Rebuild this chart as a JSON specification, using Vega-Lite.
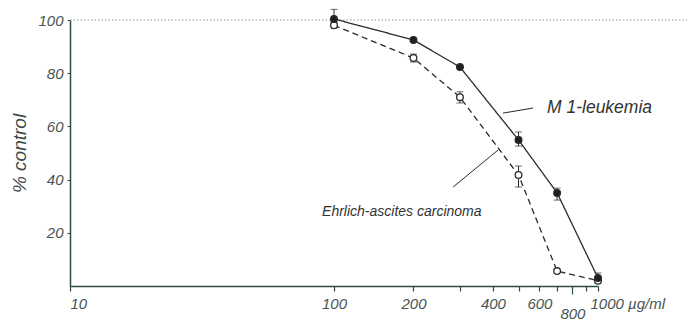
{
  "$schema": "https://vega.github.io/schema/vega-lite/v6.json",
  "width": 528,
  "height": 266,
  "autosize": {"type": "none"},
  "padding": {"left": 70, "top": 20, "right": 89, "bottom": 34},
  "background": "white",
  "config": {"view": {"stroke": null}, "font": "Liberation Sans"},
  "datasets": {
    "points": [
      {"series": "Ehrlich-ascites carcinoma", "dose": 100, "value": 98, "lo": 97, "hi": 99.5},
      {"series": "Ehrlich-ascites carcinoma", "dose": 200, "value": 85.7, "lo": 84.2, "hi": 87.2},
      {"series": "Ehrlich-ascites carcinoma", "dose": 300, "value": 71, "lo": 68.8, "hi": 73},
      {"series": "Ehrlich-ascites carcinoma", "dose": 500, "value": 41.7, "lo": 37.2, "hi": 45.1},
      {"series": "Ehrlich-ascites carcinoma", "dose": 700, "value": 5.6, "lo": null, "hi": null},
      {"series": "Ehrlich-ascites carcinoma", "dose": 1000, "value": 2, "lo": null, "hi": null},
      {"series": "M 1-leukemia", "dose": 100, "value": 100.4, "lo": 99, "hi": 104},
      {"series": "M 1-leukemia", "dose": 200, "value": 92.5, "lo": null, "hi": null},
      {"series": "M 1-leukemia", "dose": 300, "value": 82.3, "lo": null, "hi": null},
      {"series": "M 1-leukemia", "dose": 500, "value": 54.9, "lo": 52.6, "hi": 57.9},
      {"series": "M 1-leukemia", "dose": 700, "value": 35, "lo": 32.3, "hi": 36.8},
      {"series": "M 1-leukemia", "dose": 1000, "value": 3, "lo": 1.1, "hi": 4.9}
    ],
    "ref": [{"x": 10, "x2": 2200, "y": 100}],
    "leaders": [
      {"x": 436.5, "y": 65.0, "x2": 567.6, "y2": 66.9},
      {"x": 282.6, "y": 37.2, "x2": 418, "y2": 51.1}
    ],
    "labelM": [{"x": 641, "y": 66.9, "label": "M 1-leukemia"}],
    "labelE": [{"x": 90.1, "y": 27.8, "label": "Ehrlich-ascites carcinoma"}]
  },
  "layer": [
    {
      "data": {"name": "ref"},
      "mark": {"type": "rule", "color": "#7f9aa8", "strokeDash": [1.5, 2], "strokeWidth": 1.2},
      "encoding": {
        "x": {
          "field": "x", "type": "quantitative",
          "scale": {"type": "log", "domain": [10, 1000]},
          "axis": {
            "values": [10, 100, 200, 300, 400, 500, 600, 700, 800, 900, 1000],
            "format": "d",
            "labelExpr": "datum.value == 1000 ? '1000 µg/ml' : (indexof([10, 100, 200, 400, 600, 800], datum.value) >= 0 ? datum.label : '')",
            "labelOverlap": false,
            "labelBound": false,
            "labelFlush": false,
            "grid": false,
            "title": null,
            "tickSize": {"condition": {"test": "datum.value == 800", "value": 8}, "value": 5},
            "labelPadding": {"condition": {"test": "datum.value == 800", "value": 12}, "value": 5},
            "labelAlign": {"condition": {"test": "datum.value == 1000 || datum.value == 10", "value": "left"}, "value": "center"},
            "labelOffset": {"condition": {"test": "datum.value == 1000", "value": -8}, "value": 0},
            "labelFont": "Liberation Sans",
            "labelFontStyle": "italic",
            "labelFontSize": 15,
            "labelColor": "#4a5552",
            "domainColor": "#2e4a44",
            "domainWidth": 1.5,
            "tickColor": "#2e4a44",
            "tickWidth": 1.2
          }
        },
        "x2": {"field": "x2"},
        "y": {
          "field": "y", "type": "quantitative",
          "scale": {"domain": [0, 100]},
          "title": "% control",
          "axis": {
            "values": [20, 40, 60, 80, 100],
            "grid": false,
            "title": "% control",
            "titleFont": "Liberation Sans",
            "titleFontStyle": "italic",
            "titleFontWeight": "normal",
            "titleFontSize": 19,
            "titleColor": "#3c4a48",
            "titlePadding": 8,
            "labelFont": "Liberation Sans",
            "labelFontStyle": "italic",
            "labelFontSize": 15,
            "labelColor": "#4a5552",
            "labelPadding": 4,
            "tickSize": 3,
            "domainColor": "#2e4a44",
            "domainWidth": 1.5,
            "tickColor": "#2e4a44"
          }
        }
      }
    },
    {
      "data": {"name": "points"},
      "mark": {"type": "line", "color": "#2b2b2b", "strokeWidth": 1.3},
      "encoding": {
        "x": {"field": "dose", "type": "quantitative", "scale": {"type": "log", "domain": [10, 1000]}, "title": null},
        "y": {"field": "value", "type": "quantitative", "scale": {"domain": [0, 100]}, "title": "% control"},
        "detail": {"field": "series"},
        "strokeDash": {
          "field": "series", "type": "nominal",
          "scale": {"domain": ["M 1-leukemia", "Ehrlich-ascites carcinoma"], "range": [[1, 0], [6, 4]]},
          "legend": null
        }
      }
    },
    {
      "data": {"name": "points"},
      "transform": [{"filter": "isValid(datum.lo)"}],
      "mark": {"type": "errorbar", "color": "#2b2b2b", "ticks": {"size": 7}},
      "encoding": {
        "x": {"field": "dose", "type": "quantitative", "scale": {"type": "log", "domain": [10, 1000]}, "title": null},
        "y": {"field": "lo", "type": "quantitative", "scale": {"domain": [0, 100]}, "title": "% control"},
        "y2": {"field": "hi"}
      }
    },
    {
      "data": {"name": "points"},
      "mark": {"type": "point", "shape": "circle", "filled": true, "stroke": "#2b2b2b", "strokeWidth": 1.3, "size": 45, "opacity": 1},
      "encoding": {
        "x": {"field": "dose", "type": "quantitative", "scale": {"type": "log", "domain": [10, 1000]}, "title": null},
        "y": {"field": "value", "type": "quantitative", "scale": {"domain": [0, 100]}, "title": "% control"},
        "fill": {
          "field": "series", "type": "nominal",
          "scale": {"domain": ["M 1-leukemia", "Ehrlich-ascites carcinoma"], "range": ["#1f1f1f", "white"]},
          "legend": null
        }
      }
    },
    {
      "data": {"name": "leaders"},
      "mark": {"type": "rule", "color": "#2b2b2b", "strokeWidth": 1},
      "encoding": {
        "x": {"field": "x", "type": "quantitative", "scale": {"type": "log", "domain": [10, 1000]}, "title": null},
        "y": {"field": "y", "type": "quantitative", "scale": {"domain": [0, 100]}, "title": "% control"},
        "x2": {"field": "x2"},
        "y2": {"field": "y2"}
      }
    },
    {
      "data": {"name": "labelM"},
      "mark": {"type": "text", "align": "left", "baseline": "middle", "fontSize": 17.5, "fontStyle": "italic", "color": "#333333", "font": "Liberation Sans"},
      "encoding": {
        "x": {"field": "x", "type": "quantitative", "scale": {"type": "log", "domain": [10, 1000]}, "title": null},
        "y": {"field": "y", "type": "quantitative", "scale": {"domain": [0, 100]}, "title": "% control"},
        "text": {"field": "label"}
      }
    },
    {
      "data": {"name": "labelE"},
      "mark": {"type": "text", "align": "left", "baseline": "middle", "fontSize": 14, "fontStyle": "italic", "color": "#333333", "font": "Liberation Sans"},
      "encoding": {
        "x": {"field": "x", "type": "quantitative", "scale": {"type": "log", "domain": [10, 1000]}, "title": null},
        "y": {"field": "y", "type": "quantitative", "scale": {"domain": [0, 100]}, "title": "% control"},
        "text": {"field": "label"}
      }
    }
  ]
}
